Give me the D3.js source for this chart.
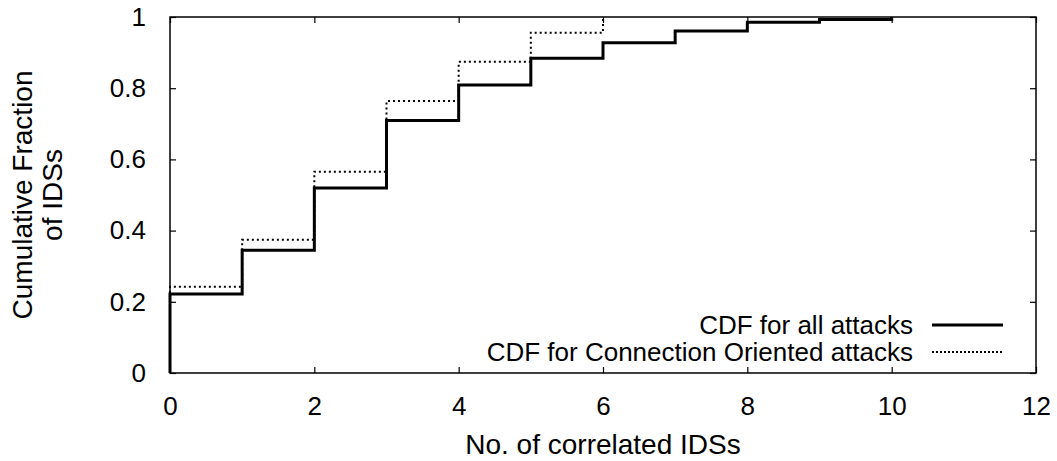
<!DOCTYPE html>
<html>
<head>
<meta charset="utf-8">
<script src="https://cdn.jsdelivr.net/npm/d3@7"></script>
<style>
  body { margin: 0; background: #fff; }
  text { font-family: "Liberation Sans", Arial, sans-serif; fill: #000; }
</style>
</head>
<body>
<div id="chart"></div>
<script>
var x_ticks = [0, 2, 4, 6, 8, 10, 12];
var y_ticks = [0, 0.2, 0.4, 0.6, 0.8, 1];
var y_tick_labels = ["0", "0.2", "0.4", "0.6", "0.8", "1"];

// number of correlated IDSs and cumulative fraction for each series
var all_x = [0, 0, 1, 2, 3, 4, 5, 6, 7, 8, 9, 10];
var all_y = [0, 0.222, 0.345, 0.52, 0.709, 0.809, 0.884, 0.928, 0.961, 0.985, 0.993, 1.0];
var conn_x = [0, 0, 1, 2, 3, 4, 5, 6];
var conn_y = [0, 0.242, 0.374, 0.565, 0.764, 0.874, 0.956, 1.0];

var series_labels = ["CDF for all attacks", "CDF for Connection Oriented attacks"];

var width = 1057, height = 461;
var margin = {left: 170, right: 21, top: 17, bottom: 88};
var plot_w = width - margin.left - margin.right;
var plot_h = height - margin.top - margin.bottom;

var svg = d3.select("#chart").append("svg")
  .attr("width", width)
  .attr("height", height);

var x = d3.scaleLinear().domain([0, 12]).range([margin.left, margin.left + plot_w]);
var y = d3.scaleLinear().domain([0, 1]).range([margin.top + plot_h, margin.top]);

function style_axis (g) {
  g.select(".domain").remove();
  g.selectAll(".tick line").attr("stroke", "#000").attr("stroke-width", 1.2);
  g.selectAll(".tick text").style("font-size", "26px");
}

// bottom axis, ticks pointing in
svg.append("g")
  .attr("transform", "translate(0," + y(0) + ")")
  .call(d3.axisBottom(x).tickValues(x_ticks).tickSize(-6).tickPadding(24).tickFormat(d3.format("d")))
  .call(style_axis);
// top mirror ticks
svg.append("g")
  .attr("transform", "translate(0," + y(1) + ")")
  .call(d3.axisTop(x).tickValues(x_ticks).tickSize(-6).tickFormat(""))
  .call(style_axis);
// left axis
svg.append("g")
  .attr("transform", "translate(" + x(0) + ",0)")
  .call(d3.axisLeft(y).tickValues(y_ticks).tickSize(-6).tickPadding(24)
    .tickFormat(function (d, i) { return y_tick_labels[i]; }))
  .call(style_axis);
// right mirror ticks
svg.append("g")
  .attr("transform", "translate(" + x(12) + ",0)")
  .call(d3.axisRight(y).tickValues(y_ticks).tickSize(-6).tickFormat(""))
  .call(style_axis);

// frame
svg.append("rect")
  .attr("x", x(0)).attr("y", y(1))
  .attr("width", x(12) - x(0)).attr("height", y(0) - y(1))
  .attr("fill", "none").attr("stroke", "#000").attr("stroke-width", 1.5);

var line = d3.line()
  .curve(d3.curveStepAfter)
  .x(function (d) { return x(d[0]); })
  .y(function (d) { return y(d[1]); });

svg.append("path")
  .datum(d3.zip(conn_x, conn_y))
  .attr("d", line)
  .attr("fill", "none")
  .attr("stroke", "#000")
  .attr("stroke-width", 2)
  .attr("stroke-dasharray", "2,3");

svg.append("path")
  .datum(d3.zip(all_x, all_y))
  .attr("d", line)
  .attr("fill", "none")
  .attr("stroke", "#000")
  .attr("stroke-width", 3);

// legend
var legend = svg.append("g");
var legend_rows = [
  {label: series_labels[0], y: 325, width: 3, dash: null},
  {label: series_labels[1], y: 352, width: 2, dash: "2,2"}
];
legend_rows.forEach(function (r) {
  legend.append("text")
    .attr("x", 913).attr("y", r.y)
    .attr("dy", "0.36em")
    .attr("text-anchor", "end")
    .style("font-size", "26px")
    .text(r.label);
  legend.append("line")
    .attr("x1", 932).attr("x2", 1003)
    .attr("y1", r.y).attr("y2", r.y)
    .attr("stroke", "#000")
    .attr("stroke-width", r.width)
    .attr("stroke-dasharray", r.dash);
});

// axis titles
svg.append("text")
  .attr("x", (x(0) + x(12)) / 2)
  .attr("y", 454)
  .attr("text-anchor", "middle")
  .style("font-size", "28px")
  .text("No. of correlated IDSs");

var ytitle = svg.append("text")
  .attr("transform", "translate(0," + ((y(0) + y(1)) / 2) + ") rotate(-90)")
  .attr("text-anchor", "middle")
  .style("font-size", "28px");
ytitle.append("tspan").attr("x", 0).attr("y", 32).text("Cumulative Fraction");
ytitle.append("tspan").attr("x", 0).attr("y", 62).text("of IDSs");
</script>
</body>
</html>
